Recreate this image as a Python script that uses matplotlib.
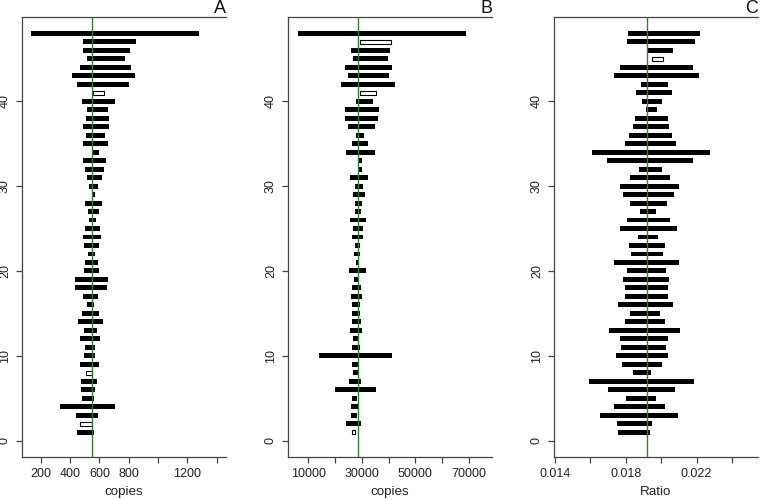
import matplotlib
matplotlib.use("Agg")
import matplotlib.pyplot as plt
import numpy as np

plt.rcParams['font.family'] = ['Liberation Sans', 'DejaVu Sans']

rows = list(range(1, 49))

a_lo = [448, 470, 441, 334, 480, 475, 477, 511, 468, 498, 502, 466, 495, 452, 484, 516,
        491, 436, 434, 495, 502, 525, 498, 486, 502, 532, 520, 500, 555, 530, 516, 505,
        489, 550, 486, 509, 489, 507, 518, 480, 557, 450, 416, 466, 516, 486, 491, 136]
a_hi = [566, 552, 591, 705, 561, 573, 582, 552, 598, 570, 568, 607, 582, 625, 595, 566,
        593, 652, 659, 598, 593, 573, 600, 614, 605, 580, 595, 616, 568, 593, 616, 630,
        648, 595, 659, 639, 668, 666, 657, 707, 632, 805, 841, 814, 773, 807, 848, 1282]
a_open = [2, 8, 41]
a_ref = 552

b_lo = [26190, 23940, 25940, 26060, 26310, 19960, 25310, 26560, 26430, 14110, 26190, 26810,
        25690, 26190, 26430, 26430, 26060, 26310, 27180, 25060, 27930, 27180, 27310, 26430,
        26810, 25560, 27560, 27560, 26680, 27310, 25690, 28430, 28550, 24070, 26310, 27930,
        24940, 23700, 23700, 27930, 29170, 22330, 24820, 23820, 26680, 25940, 29170, 6016]
b_hi = [27310, 29670, 28300, 28430, 28300, 35270, 29800, 28550, 28920, 41370, 29300, 28800,
        29920, 29550, 29300, 29300, 29920, 29670, 29050, 31410, 28430, 29170, 29170, 30540,
        30420, 31660, 29800, 29920, 31170, 30420, 32290, 29920, 29920, 34780, 32410, 30920,
        34780, 36150, 36390, 34150, 35150, 42370, 40000, 41250, 39760, 40380, 40750, 68890]
b_open = [1, 41, 47]
b_ref = 28426

c_lo = [.017540, .017484, .016561, .017314, .017992, .016975, .015940, .018388, .017804,
        .017465, .017729, .017691, .017051, .017936, .018237, .017540, .017936, .017936,
        .017861, .018068, .017352, .018313, .018199, .018708, .017653, .018049, .018821,
        .018237, .017842, .017691, .018218, .018727, .016957, .016072, .017974, .018199,
        .018407, .018519, .019122, .018915, .018557, .018877, .017352, .017691, .019480,
        .019179, .018068, .018105]
c_hi = [.019386, .019461, .020949, .020215, .019706, .020780, .021834, .019405, .020045,
        .020384, .020290, .020403, .021081, .020215, .019932, .020667, .020365, .020384,
        .020441, .020271, .021024, .020120, .020233, .019800, .020874, .020497, .019725,
        .020346, .020723, .020987, .020478, .020045, .021815, .022738, .020855, .020629,
        .020441, .020384, .019781, .020026, .020629, .020384, .022117, .021778, .020102,
        .020648, .021928, .022211]
c_open = [45]
c_ref = 0.019179

panels = [
    dict(title="A", lo=a_lo, hi=a_hi, open=a_open, ref=a_ref, xlabel="copies",
         ticks=[200, 400, 600, 800, 1000, 1200, 1400],
         ticklabels=["200", "400", "600", "800", "", "1200", ""],
         xlim=(72, 1464), left=22),
    dict(title="B", lo=b_lo, hi=b_hi, open=b_open, ref=b_ref, xlabel="copies",
         ticks=[10000, 20000, 30000, 40000, 50000, 60000, 70000],
         ticklabels=["10000", "", "30000", "", "50000", "", "70000"],
         xlim=(2400, 78600), left=288),
    dict(title="C", lo=c_lo, hi=c_hi, open=c_open, ref=c_ref, xlabel="Ratio",
         ticks=[0.014, 0.016, 0.018, 0.020, 0.022, 0.024],
         ticklabels=["0.014", "", "0.018", "", "0.022", ""],
         xlim=(0.01394, 0.02547), left=554),
]

fig = plt.figure(figsize=(7.6, 5.0), dpi=100)
W, H = 760, 500
top_px, bot_px, width_px = 17, 457, 204
axcol = "#444444"

for p in panels:
    ax = fig.add_axes([p["left"] / W, (H - bot_px) / H, width_px / W, (bot_px - top_px) / H])
    lo = np.array(p["lo"])
    hi = np.array(p["hi"])
    y = np.array(rows)
    is_open = np.isin(y, p["open"])
    ax.barh(y[~is_open], (hi - lo)[~is_open], left=lo[~is_open], height=0.58,
            color="black", edgecolor="none", zorder=2)
    ax.barh(y[is_open], (hi - lo)[is_open], left=lo[is_open], height=0.5,
            facecolor="white", edgecolor="black", linewidth=0.8, zorder=2)
    ax.axvline(p["ref"], color="#357d35", linewidth=1.0, zorder=3)

    ax.set_xlim(*p["xlim"])
    ax.set_ylim(-1.92, 49.92)
    for s in ["left", "top", "bottom"]:
        ax.spines[s].set_color(axcol)
        ax.spines[s].set_linewidth(0.9)
    ax.spines["right"].set_visible(False)

    ax.set_xticks(p["ticks"])
    ax.set_xticklabels(p["ticklabels"])
    ax.set_yticks([0, 10, 20, 30, 40])
    ax.set_yticklabels(["0", "10", "20", "30", "40"], rotation=90, va="center")
    ax.tick_params(axis="both", direction="out", length=4, width=0.9, color=axcol,
                   labelsize=9, labelcolor="#222222")
    ax.tick_params(axis="x", pad=4)
    ax.tick_params(axis="y", pad=4)
    ax.set_xlabel(p["xlabel"], fontsize=9.6, color="#222222")
    ax.xaxis.set_label_coords(0.5, -0.066)
    ax.xaxis.label.set_va("top")
    ax.set_title(p["title"], loc="right", fontsize=13, pad=1.5, color="#111111")

fig.savefig("out.png", dpi=100)
